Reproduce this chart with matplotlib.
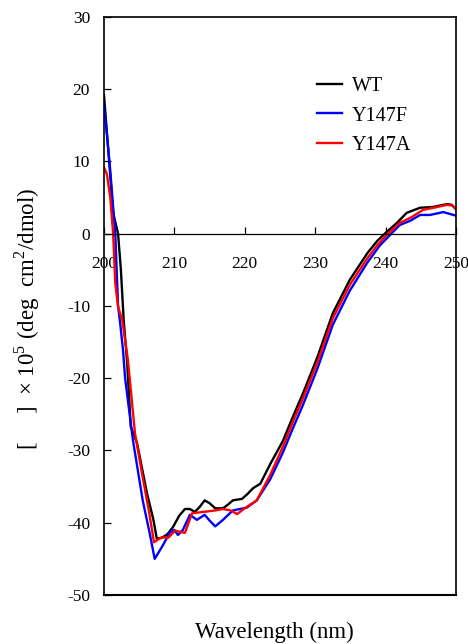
import matplotlib
matplotlib.use("Agg")
import matplotlib.pyplot as plt

plt.rcParams['font.family'] = ['Liberation Serif', 'DejaVu Serif']
plt.rcParams['mathtext.fontset'] = 'custom'
plt.rcParams['mathtext.rm'] = 'Liberation Serif'
plt.rcParams['axes.unicode_minus'] = False

# wavelength (nm) / ellipticity readings for each protein
wt_x = [200, 201.3, 202.0, 202.4, 202.8, 203.3, 203.8, 204.7, 206.1, 207.0, 207.5,
        208.2, 209.0, 209.8, 210.7, 211.5, 212.2, 212.9, 213.6, 214.3, 215.0, 215.8,
        216.9, 217.6, 218.3, 219.6, 220.4, 221.2, 222.2, 223.6, 225.4, 226.8, 228.3,
        230.3, 232.5, 234.9, 237.4, 238.8, 240.2, 241.6, 243.0, 244.9, 246.7, 248.7,
        249.4, 250]
wt_y = [19.2, 2.9, 0.0, -5, -12, -18, -26.7, -29, -35.9, -39.5, -42.2,
        -42.1, -41.6, -40.6, -39.0, -38.1, -38.1, -38.5, -37.8, -36.9, -37.3, -38.0,
        -38.0, -37.5, -36.9, -36.7, -36.0, -35.2, -34.6, -31.9, -28.7, -25.4, -22.0,
        -17.1, -11.0, -6.4, -2.7, -1.0, 0.3, 1.5, 2.9, 3.6, 3.7, 4.1,
        4.0, 3.4]

f_x = [200, 200.85, 201.6, 202.0, 202.3, 202.7, 203.0, 204.1, 205.5, 206.5, 207.2,
       208.2, 209.4, 210.0, 210.5, 211.2, 212.2, 213.2, 214.3, 215.0, 215.8, 216.9,
       218.3, 219.3, 220.3, 221.7, 223.6, 225.4, 226.8, 228.3, 230.3, 232.5, 234.9,
       237.4, 239.2, 240.6, 242.0, 243.5, 244.9, 246.3, 248.2, 250]
f_y = [18.1, 9.2, 0, -10, -12.4, -16.1, -20, -28.5, -36.9, -41.5, -45.0,
       -43.4, -41.3, -41.0, -41.7, -41.0, -38.9, -39.6, -38.9, -39.7, -40.5, -39.6,
       -38.3, -38.1, -37.9, -36.9, -34.0, -30.3, -27.0, -23.6, -18.7, -12.6, -7.9,
       -4.0, -1.6, -0.2, 1.2, 1.8, 2.6, 2.6, 3.0, 2.5]

a_x = [200, 200.4, 200.9, 201.3, 201.6, 202.0, 202.6, 203.0, 203.4, 204.4, 205.5,
       206.4, 207.1, 208.2, 209.1, 210.1, 211.5, 212.5, 214.1, 215.8, 216.9, 218.0,
       218.9, 220.0, 221.7, 223.6, 225.4, 226.8, 228.3, 230.3, 232.5, 234.9, 237.4,
       238.8, 240.2, 242.0, 243.7, 245.3, 247.3, 248.7, 249.5, 250]
a_y = [9.2, 8.3, 5.0, 0, -6.8, -10.1, -12, -14.7, -17.5, -27.6, -33.7,
       -38.5, -42.7, -42.0, -42.1, -41.1, -41.4, -38.7, -38.5, -38.3, -38.1, -38.3,
       -38.8, -38.0, -36.9, -33.4, -29.5, -26.1, -22.7, -17.8, -11.7, -7.1, -3.4,
       -1.6, -0.1, 1.5, 2.3, 3.3, 3.7, 4.0, 3.9, 3.4]

labels = ["WT", "Y147F", "Y147A"]
colors = ["black", "blue", "red"]

fig = plt.figure(figsize=(4.68, 6.44), dpi=100)
ax = fig.add_axes([0.2222, 0.0761, 0.7522, 0.8975])

ax.plot(wt_x, wt_y, color=colors[0], lw=1.7, label=labels[0])
ax.plot(f_x, f_y, color=colors[1], lw=1.7, label=labels[1])
ax.plot(a_x, a_y, color=colors[2], lw=1.7, label=labels[2])

ax.set_xlim(200, 250)
ax.set_ylim(-50, 30)
ax.set_xticks([200, 210, 220, 230, 240, 250])
ax.set_yticks(range(-50, 31, 10))

# x axis sits on the zero line, box closed with a line at the bottom
ax.spines['bottom'].set_position(('data', 0))
ax.spines['bottom'].set_linewidth(0.9)
for s in ['left', 'top', 'right']:
    ax.spines[s].set_linewidth(1.2)
ax.axhline(-50, color='black', lw=1.5, clip_on=False)

ax.tick_params(axis='y', direction='in', length=5, width=0.9, pad=10, labelsize=12.5)
ax.tick_params(axis='x', direction='in', length=5, width=0.9, pad=16, labelsize=12.5)

fig.text(0.587, 0.0186, "Wavelength (nm)", ha='center', va='center', fontsize=16.5)
fig.text(0.058, 0.505, "[     ]  \u00d7 10$^5$ (deg  cm$^2$/dmol)", rotation=90,
         ha='center', va='center', fontsize=16.5)

ax.legend(loc='upper left', bbox_to_anchor=(0.677, 0.88), bbox_transform=fig.transFigure,
          frameon=False, fontsize=14.5, handlelength=1.25, handletextpad=0.5,
          labelspacing=0.5, borderpad=0, borderaxespad=0)

fig.savefig("out.png", dpi=100)
